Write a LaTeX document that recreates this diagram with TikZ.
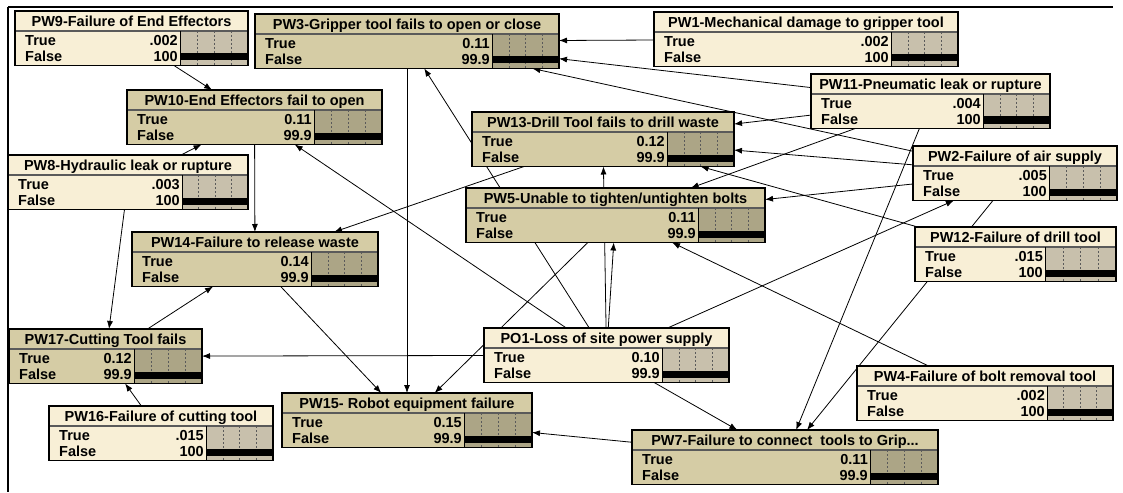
\documentclass[tikz,border=0pt]{standalone}
\usepackage{fontspec}
\setmainfont{Liberation Sans}
\usetikzlibrary{arrows.meta,calc}
\pgfdeclarelayer{paper}
\pgfdeclarelayer{links}
\pgfsetlayers{paper,links,main}

\definecolor{priorfill}{RGB}{248,239,214}
\definecolor{priorbar}{RGB}{200,192,172}
\definecolor{childfill}{RGB}{213,204,165}
\definecolor{childbar}{RGB}{172,165,134}
\definecolor{divgray}{RGB}{90,90,90}

\tikzset{
  bnbox/.style={rectangle, draw=black, line width=1.5pt, inner sep=0pt, outer sep=0pt, minimum height=54.5pt},
  bntitle/.style={font=\fontsize{14.5}{16}\selectfont\bfseries, inner sep=0pt, anchor=base},
  bntext/.style={font=\fontsize{14.5}{16}\selectfont\bfseries, inner sep=0pt},
  link/.style={line width=0.8pt, -{Latex[length=8pt,width=6pt]}},
  bardash/.style={draw=divgray, line width=0.5pt, dash pattern=on 2pt off 2pt},
  frameline/.style={line width=2pt, black},
}

% \bnnode{name}{prior|child}{left}{top}{right}{bar left}{title}{true}{false}
\newcommand{\bnnode}[9]{%
  \pgfmathsetmacro\bnB{#4+54.5}%
  \pgfmathsetmacro\bnD{#4+20}%
  \pgfmathsetmacro\bnQ{(#5-#6)/4}%
  \pgfmathsetmacro\bnW{#5-#3}%
  \node[bnbox, fill=#2fill, minimum width=\bnW pt, anchor=north west] (#1) at (#3,#4) {};
  \fill[#2bar] (#6,\bnD) rectangle (#5,\bnB);
  \foreach \k in {1,2,3}{\draw[bardash] ({#6+\k*\bnQ},\bnD) -- ({#6+\k*\bnQ},\bnB);}
  \fill[black] (#6,{\bnB-12}) rectangle (#5,{\bnB-5});
  \draw[divgray, line width=1.2pt] (#3,\bnD) -- (#5,\bnD);
  \draw[black, line width=0.8pt] (#6,\bnD) -- (#6,\bnB);
  \node[bntitle] at ({(#3+#5)/2},{#4+15.3}) {#7};
  \node[bntext, anchor=base west] at ({#3+10},{#4+34.4}) {True};
  \node[bntext, anchor=base west] at ({#3+10},{#4+50.2}) {False};
  \node[bntext, anchor=base east] at ({#6-2},{#4+34.4}) {#8};
  \node[bntext, anchor=base east] at ({#6-2},{#4+50.2}) {#9};
  \draw[line width=1.5pt] (#1.north west) rectangle (#1.south east);
}

\begin{document}
\begin{tikzpicture}[x=1pt, y=-1pt]
\begin{pgfonlayer}{paper}
\fill[white] (0,0) rectangle (1123,492);
\end{pgfonlayer}
\useasboundingbox (0,0) rectangle (1123,492);

% window frame
\draw[frameline] (8,7) -- (1113,7);
\draw[frameline] (8,7) -- (8,492);

% nodes
\bnnode{pw9}{prior}{15}{11}{248}{180}{PW9-Failure of End Effectors}{.002}{100}
\bnnode{pw3}{child}{255}{14}{559}{492}{PW3-Gripper tool fails to open or close}{0.11}{99.9}
\bnnode{pw1}{prior}{654}{12}{958}{891}{PW1-Mechanical damage to gripper tool}{.002}{100}
\bnnode{pw10}{child}{127}{90}{382}{314}{PW10-End Effectors fail to open}{0.11}{99.9}
\bnnode{pw11}{prior}{811}{74}{1050}{983}{PW11-Pneumatic leak or rupture}{.004}{100}
\bnnode{pw13}{child}{472}{112}{734}{667}{PW13-Drill Tool fails to drill waste}{0.12}{99.9}
\bnnode{pw8}{prior}{8}{155}{248}{182}{PW8-Hydraulic leak or rupture}{.003}{100}
\bnnode{pw2}{prior}{913}{146}{1117}{1049}{PW2-Failure of air supply}{.005}{100}
\bnnode{pw5}{child}{466}{188}{765}{698}{PW5-Unable to tighten/untighten bolts}{0.11}{99.9}
\bnnode{pw14}{child}{132}{232}{378}{311}{PW14-Failure to release waste}{0.14}{99.9}
\bnnode{pw12}{prior}{915}{227}{1116}{1045}{PW12-Failure of drill tool}{.015}{100}
\bnnode{pw17}{child}{9}{329}{202}{134}{PW17-Cutting Tool fails}{0.12}{99.9}
\bnnode{po1}{prior}{484}{328}{729}{662}{PO1-Loss of site power supply}{0.10}{99.9}
\bnnode{pw4}{prior}{857}{366}{1113}{1047}{PW4-Failure of bolt removal tool}{.002}{100}
\bnnode{pw16}{prior}{49}{406}{273}{206}{PW16-Failure of cutting tool}{.015}{100}
\bnnode{pw15}{child}{282}{393}{532}{464}{PW15- Robot equipment failure}{0.15}{99.9}
\bnnode{pw7}{child}{632}{430}{938}{870}{PW7-Failure to connect\ \ tools to Grip...}{0.11}{99.9}

% links, drawn beneath the nodes
\begin{pgfonlayer}{links}
\draw[link] (pw9) -- (pw10);
\draw[link] (pw8) -- (pw10);
\draw[link] (po1) -- (pw10);
\draw[link] (pw10) -- (pw14);
\draw[link] (pw13) -- (pw14);
\draw[link] (pw17) -- (pw14);
\draw[link] (pw8) -- (pw17);
\draw[link] (pw16) -- (pw17);
\draw[link] (po1) -- (pw17);
\draw[link] (pw14) -- (pw15);
\draw[link] (pw3) -- (pw15);
\draw[link] (pw5) -- (pw15);
\draw[link] (pw7) -- (pw15);
\draw[link] (pw1) -- (pw3);
\draw[link] (pw11) -- (pw3);
\draw[link] (pw2) -- (pw3);
\draw[link] (po1) -- (pw3);
\draw[link] (pw11) -- (pw13);
\draw[link] (pw2) -- (pw13);
\draw[link] (pw12) -- (pw13);
\draw[link] (po1) -- (pw13);
\draw[link] (pw2) -- (pw5);
\draw[link] (pw4) -- (pw5);
\draw[link] (pw11) -- (pw5);
\draw[link] (po1) -- (pw5);
\draw[link] (po1) -- (pw2);
\draw[link] (po1) -- (pw7);
\draw[link] (pw11) -- (pw7);
\draw[link] (pw2) -- (pw7);
\end{pgfonlayer}
\end{tikzpicture}
\end{document}
